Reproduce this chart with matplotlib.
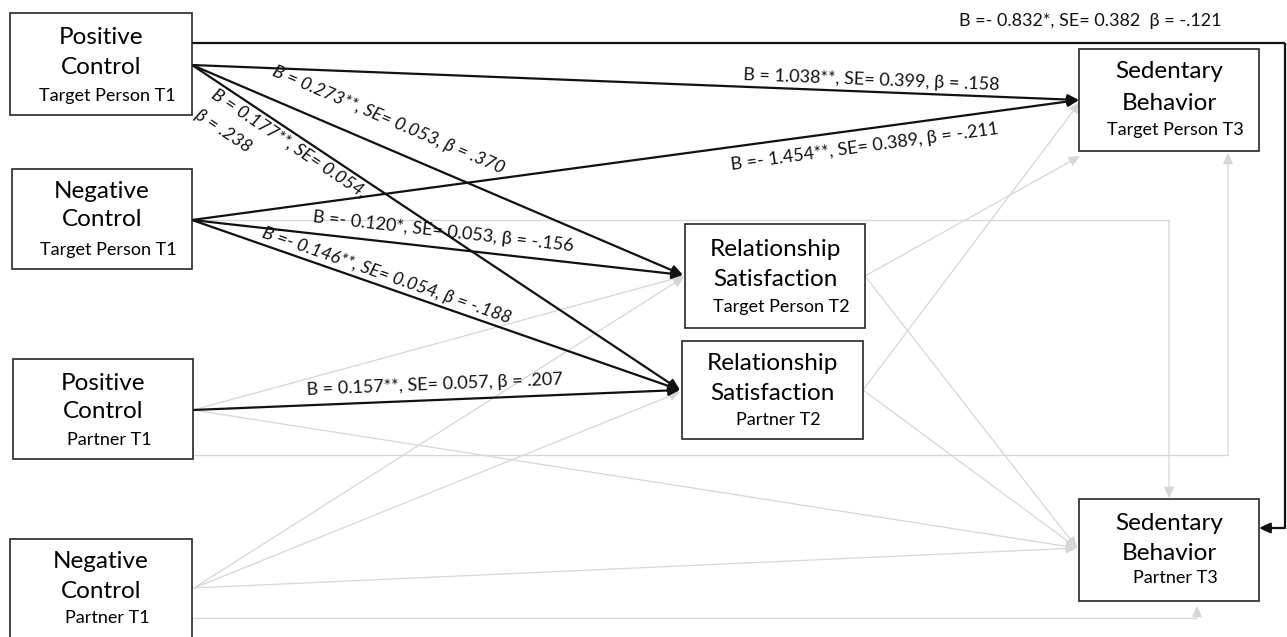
import math

import matplotlib.pyplot as plt
from matplotlib.patches import Rectangle

plt.rcParams["font.family"] = ["Lato", "DejaVu Sans"]

# model variables
node_ids = ["pc_tp1", "nc_tp1", "pc_pt1", "nc_pt1", "rs_tp2", "rs_pt2", "sb_tp3", "sb_pt3"]
node_titles = [
    "Positive\nControl", "Negative\nControl", "Positive\nControl", "Negative\nControl",
    "Relationship\nSatisfaction", "Relationship\nSatisfaction", "Sedentary\nBehavior", "Sedentary\nBehavior",
]
node_subtitles = [
    "Target Person T1", "Target Person T1", "Partner T1", "Partner T1",
    "Target Person T2", "Partner T2", "Target Person T3", "Partner T3",
]

# significant paths: unstandardized B, significance stars, SE, standardized beta
sig_from = ["pc_tp1", "nc_tp1", "pc_tp1", "pc_tp1", "nc_tp1", "nc_tp1", "pc_pt1", "pc_tp1"]
sig_to = ["sb_tp3", "sb_tp3", "rs_tp2", "rs_pt2", "rs_tp2", "rs_pt2", "rs_pt2", "sb_pt3"]
sig_B = [1.038, -1.454, 0.273, 0.177, -0.120, -0.146, 0.157, -0.832]
sig_stars = ["**", "**", "**", "**", "*", "**", "**", "*"]
sig_SE = [0.399, 0.389, 0.053, 0.054, 0.053, 0.054, 0.057, 0.382]
sig_beta = [0.158, -0.211, 0.370, 0.238, -0.156, -0.188, 0.207, -0.121]

# non-significant paths (drawn light, no label)
ns_from = ["nc_tp1", "pc_pt1", "pc_pt1", "pc_pt1", "nc_pt1", "nc_pt1", "nc_pt1", "nc_pt1",
           "rs_tp2", "rs_tp2", "rs_pt2", "rs_pt2"]
ns_to = ["sb_pt3", "sb_tp3", "rs_tp2", "sb_pt3", "rs_tp2", "rs_pt2", "sb_pt3", "sb_pt3",
         "sb_tp3", "sb_pt3", "sb_tp3", "sb_pt3"]

# ---- layout (pixel coordinates, y downwards) ----
BOXES = {
    "pc_tp1": (10, 13, 192, 115),
    "nc_tp1": (12, 169, 192, 269),
    "pc_pt1": (13, 359, 193, 459),
    "nc_pt1": (10, 539, 192, 660),
    "rs_tp2": (685, 224, 865, 328),
    "rs_pt2": (682, 341, 863, 439),
    "sb_tp3": (1079, 49, 1259, 151),
    "sb_pt3": (1079, 499, 1259, 601),
}
TEXT_OFFSETS = {  # y offsets from the box top: title line 1, title line 2, subtitle
    "pc_tp1": (25, 55, 83), "nc_tp1": (22, 50, 81), "pc_pt1": (24, 53, 81),
    "nc_pt1": (23, 53, 79), "rs_tp2": (26, 56, 83), "rs_pt2": (22, 52, 79),
    "sb_tp3": (23, 54, 81), "sb_pt3": (24, 54, 79),
}

SIG_ROUTES = [
    [(192, 65), (1079, 100)],
    [(192, 220), (1079, 100)],
    [(192, 65), (683, 275)],
    [(192, 65), (680, 390)],
    [(192, 220), (683, 275)],
    [(192, 220), (680, 390)],
    [(193, 410), (680, 390)],
    [(192, 43), (1285, 43), (1285, 528), (1259, 528)],
]
# label centre and whether the text is set slanted
SIG_LABELS = [
    ((871, 80), False),
    ((865, 147), False),
    ((388, 120), True),
    ((289, 143), True),
    ((443, 232), False),
    ((387, 276), True),
    ((435, 385), False),
    ((1090, 21), False),
]
WRAP_BETA = {3: (223, 131)}  # beta printed on its own line below the label

NS_ROUTES = [
    [(192, 220), (1169, 220), (1169, 498)],
    [(193, 455), (1228, 455), (1228, 153)],
    [(193, 410), (684, 276)],
    [(193, 410), (1077, 548)],
    [(194, 588), (684, 277)],
    [(194, 588), (680, 392)],
    [(194, 588), (1077, 548)],
    [(192, 618), (1197, 618), (1197, 606)],
    [(865, 276), (1080, 156)],
    [(865, 276), (1077, 548)],
    [(863, 390), (1080, 102)],
    [(863, 390), (1077, 548)],
]

BLACK = "#111111"
GREY = "#d6d6d6"
LABEL_SIZE = 13
TITLE_SIZE = 17.5
SUB_SIZE = 13


def coef_text(b, stars, se, beta, wrap=False, sep=", "):
    b_txt = f"B = {b:.3f}" if b >= 0 else f"B =- {abs(b):.3f}"
    beta_txt = ("-" if beta < 0 else "") + f"{abs(beta):.3f}"[1:]
    head = f"{b_txt}{stars}, SE= {se:.3f}"
    if wrap:
        return head + ",", f"β = {beta_txt}"
    return f"{head}{sep}β = {beta_txt}", None


def draw_route(ax, pts, color, lw, z):
    for (x0, y0), (x1, y1) in zip(pts[:-2], pts[1:-1]):
        ax.plot([x0, x1], [y0, y1], color=color, lw=lw, solid_capstyle="butt", zorder=z)
    ax.annotate(
        "", xy=pts[-1], xytext=pts[-2],
        arrowprops=dict(arrowstyle="-|>,head_length=0.6,head_width=0.28", color=color,
                        lw=lw, shrinkA=0, shrinkB=0, mutation_scale=11),
        zorder=z,
    )


def seg_angle(p0, p1):
    return -math.degrees(math.atan2(p1[1] - p0[1], p1[0] - p0[0]))


fig = plt.figure(figsize=(12.87, 6.37), dpi=100)
ax = fig.add_axes([0, 0, 1, 1])
ax.set_xlim(0, 1287)
ax.set_ylim(637, 0)
ax.axis("off")

for src, dst, route in zip(ns_from, ns_to, NS_ROUTES):
    draw_route(ax, route, GREY, 0.9, 1)

for i, route in enumerate(SIG_ROUTES):
    draw_route(ax, route, BLACK, 1.6, 3)
    (cx, cy), slanted = SIG_LABELS[i]
    rot = seg_angle(route[0], route[1])
    sep = "  " if i == len(SIG_ROUTES) - 1 else ", "
    main, extra = coef_text(sig_B[i], sig_stars[i], sig_SE[i], sig_beta[i], wrap=i in WRAP_BETA, sep=sep)
    style = "italic" if slanted else "normal"
    ax.text(cx, cy, main, rotation=rot, rotation_mode="anchor", ha="center", va="center",
            fontsize=LABEL_SIZE, fontstyle=style, color=BLACK, zorder=5)
    if extra:
        ex, ey = WRAP_BETA[i]
        ax.text(ex, ey, extra, rotation=rot, rotation_mode="anchor", ha="center", va="center",
                fontsize=LABEL_SIZE, fontstyle=style, color=BLACK, zorder=5)

for nid, title, sub in zip(node_ids, node_titles, node_subtitles):
    x0, y0, x1, y1 = BOXES[nid]
    ax.add_patch(Rectangle((x0, y0), x1 - x0, y1 - y0, facecolor="white",
                           edgecolor="#262626", lw=1.2, zorder=4))
    cx = (x0 + x1) / 2
    t1, t2, ts = TEXT_OFFSETS[nid]
    line1, line2 = title.split("\n")
    ax.text(cx, y0 + t1, line1, ha="center", va="center", fontsize=TITLE_SIZE, zorder=6)
    ax.text(cx, y0 + t2, line2, ha="center", va="center", fontsize=TITLE_SIZE, zorder=6)
    ax.text(cx + 6, y0 + ts, sub, ha="center", va="center", fontsize=SUB_SIZE, zorder=6)

fig.savefig("out.png", dpi=100)
